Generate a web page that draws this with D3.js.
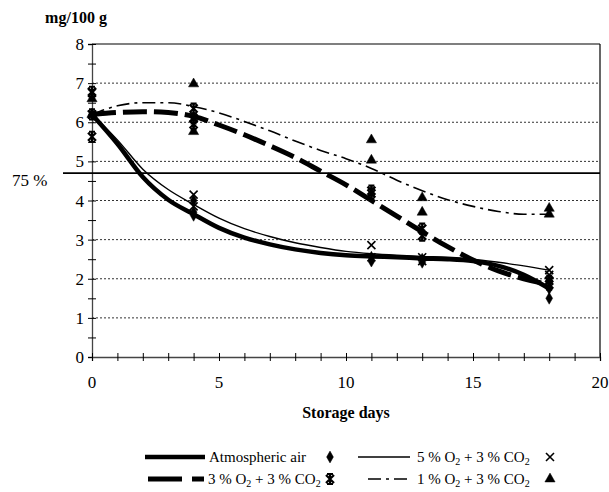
<!DOCTYPE html>
<html>
<head>
<meta charset="utf-8">
<script src="https://cdn.jsdelivr.net/npm/d3@7"></script>
<style>
  body { margin: 0; background: #fff; }
  svg { font-family: "Liberation Serif", "Times New Roman", serif; }
</style>
</head>
<body>
<script>
// days and replicate measurements (mg/100 g)
var trendDays = [0, 1, 2, 3, 4, 5, 6, 7, 8, 9, 10, 11, 12, 13, 14, 15, 16, 17, 18];
var airTrend  = [6.2, 5.45, 4.6, 4.02, 3.65, 3.3, 3.05, 2.88, 2.75, 2.66, 2.6, 2.57, 2.55, 2.52, 2.5, 2.45, 2.33, 2.1, 1.75];
var o5Trend   = [6.2, 5.55, 4.8, 4.28, 3.9, 3.55, 3.28, 3.08, 2.92, 2.8, 2.7, 2.64, 2.6, 2.57, 2.55, 2.5, 2.42, 2.33, 2.22];
var o3Trend   = [6.2, 6.25, 6.27, 6.25, 6.15, 5.93, 5.68, 5.4, 5.1, 4.75, 4.4, 4.0, 3.6, 3.2, 2.82, 2.48, 2.2, 2.0, 1.85];
var o1Trend   = [6.2, 6.42, 6.5, 6.5, 6.4, 6.24, 6.02, 5.78, 5.52, 5.28, 5.07, 4.82, 4.52, 4.25, 4.02, 3.85, 3.72, 3.65, 3.65];

var airPoints = [[0, 6.2], [4, 4.0], [4, 3.7], [4, 3.62], [11, 2.55], [11, 2.45], [13, 2.5], [13, 2.42], [18, 1.5], [18, 1.75], [18, 1.95]];
var o5Points  = [[0, 6.75], [0, 6.2], [4, 4.15], [4, 3.85], [11, 2.86], [11, 2.55], [13, 2.55], [13, 2.45], [18, 2.22], [18, 2.1]];
var o3Points  = [[0, 6.78], [0, 6.2], [0, 5.63], [4, 6.35], [4, 6.1], [4, 5.95], [11, 4.25], [11, 4.18], [13, 3.28], [13, 3.1], [18, 1.95], [18, 1.85]];
var o1Points  = [[0, 6.6], [0, 6.2], [4, 6.98], [4, 5.76], [11, 5.55], [11, 5.03], [13, 4.07], [13, 3.7], [18, 3.8], [18, 3.65]];

var yTicks = [0, 1, 2, 3, 4, 5, 6, 7, 8];
var xTicks = [0, 5, 10, 15, 20];
var limit75 = 4.7;

var svg = d3.select('body').append('svg')
  .attr('width', 609)
  .attr('height', 492)
  .attr('font-family', '"Liberation Serif", "Times New Roman", serif');

var x = d3.scaleLinear().domain([0, 20]).range([92, 600]);
var y = d3.scaleLinear().domain([0, 8]).range([357, 44]);

// dotted gridlines
svg.append('g')
  .selectAll('line')
  .data(yTicks.filter(function(d){ return d > 0 && d < 8; }))
  .enter().append('line')
    .attr('x1', x(0)).attr('x2', x(20))
    .attr('y1', function(d){ return y(d); })
    .attr('y2', function(d){ return y(d); })
    .attr('stroke', '#333')
    .attr('stroke-width', 1)
    .attr('stroke-dasharray', '2,2');

// frame top and right
svg.append('line').attr('x1', x(0)).attr('x2', x(20)).attr('y1', y(8)).attr('y2', y(8))
  .attr('stroke', '#000').attr('stroke-width', 1.2);
svg.append('line').attr('x1', x(20)).attr('x2', x(20)).attr('y1', y(8)).attr('y2', y(0))
  .attr('stroke', '#000').attr('stroke-width', 1.2);

// axes
var yAxis = d3.axisLeft(y).tickValues(d3.range(0, 8.01, 0.5)).tickSize(4).tickFormat('');
var gy = svg.append('g').attr('transform', 'translate(' + x(0) + ',0)').call(yAxis);
var xAxis = d3.axisBottom(x).tickValues(d3.range(0, 20.01, 1)).tickSize(4).tickFormat('');
var gx = svg.append('g').attr('transform', 'translate(0,' + y(0) + ')').call(xAxis);
[gy, gx].forEach(function(g){
  g.select('.domain').attr('stroke', '#444').attr('stroke-width', 1.3);
  g.selectAll('.tick line').attr('stroke', '#000');
});
gy.selectAll('.tick line').attr('x1', -4).attr('x2', 4);
gx.selectAll('.tick line').attr('y1', -4).attr('y2', 4);

svg.append('g').selectAll('text')
  .data(yTicks).enter().append('text')
    .attr('x', 84).attr('y', function(d){ return y(d) + 6; })
    .attr('text-anchor', 'end')
    .attr('font-size', 17)
    .text(function(d){ return d; });

svg.append('g').selectAll('text')
  .data(xTicks).enter().append('text')
    .attr('x', function(d){ return x(d); }).attr('y', 388)
    .attr('text-anchor', 'middle')
    .attr('font-size', 17)
    .text(function(d){ return d; });

// 75 % line
svg.append('line').attr('x1', 63).attr('x2', x(20)).attr('y1', y(limit75)).attr('y2', y(limit75))
  .attr('stroke', '#000').attr('stroke-width', 1.6);
svg.append('text').attr('x', 12).attr('y', y(limit75) + 13).attr('font-size', 17).text('75 %');

svg.append('text').attr('x', 76).attr('y', 23).attr('text-anchor', 'middle')
  .attr('font-size', 16).attr('font-weight', 'bold').text('mg/100 g');
svg.append('text').attr('x', 346).attr('y', 418).attr('text-anchor', 'middle')
  .attr('font-size', 16).attr('font-weight', 'bold').text('Storage days');

// markers
function markerPath(type){
  if (type === 'diamond') return d3.symbol().type(d3.symbolDiamond).size(40)();
  if (type === 'triangle') return d3.symbol().type(d3.symbolTriangle).size(45)();
  if (type === 'cross') return 'M-4,-4L4,4M-4,4L4,-4';
  return 'M-4,-4L4,4M-4,4L4,-4M0,-5L0,5M-3,-5L3,-5M-3,5L3,5';
}
function markerFill(type){
  return (type === 'cross' || type === 'star') ? 'none' : '#000';
}
function markerStroke(type){
  return type === 'star' ? 2.2 : (type === 'cross' ? 1.6 : 0.5);
}
function drawMarkers(points, type){
  svg.append('g').selectAll('path')
    .data(points).enter().append('path')
      .attr('transform', function(d){ return 'translate(' + x(d[0]) + ',' + y(d[1]) + ')'; })
      .attr('d', markerPath(type))
      .attr('fill', markerFill(type))
      .attr('stroke', '#000')
      .attr('stroke-width', markerStroke(type));
}

var series = [
  { name: 'air', trend: airTrend, points: airPoints, marker: 'diamond', width: 4.5, dash: null },
  { name: 'o5',  trend: o5Trend,  points: o5Points,  marker: 'cross',   width: 1.4, dash: null },
  { name: 'o3',  trend: o3Trend,  points: o3Points,  marker: 'star',    width: 5,   dash: '24,7' },
  { name: 'o1',  trend: o1Trend,  points: o1Points,  marker: 'triangle', width: 1.6, dash: '13,5,3,5' }
];

var line = d3.line()
  .x(function(d){ return x(d[0]); })
  .y(function(d){ return y(d[1]); })
  .curve(d3.curveMonotoneX);

series.forEach(function(s){
  drawMarkers(s.points, s.marker);
});
series.forEach(function(s){
  svg.append('path')
    .datum(trendDays.map(function(d, i){ return [d, s.trend[i]]; }))
    .attr('d', line)
    .attr('fill', 'none')
    .attr('stroke', '#000')
    .attr('stroke-width', s.width)
    .attr('stroke-dasharray', s.dash);
});

// legend
var legend = [
  { s: series[0], x1: 145, x2: 205, tx: 209, label: ['Atmospheric air'], mx: 330, my: 457 },
  { s: series[1], x1: 358, x2: 410, tx: 417, label: ['5 % O', '2', ' + 3 % CO', '2'], mx: 550, my: 457 },
  { s: series[2], x1: 148, x2: 204, tx: 208, label: ['3 % O', '2', ' + 3 % CO', '2'], mx: 330, my: 479 },
  { s: series[3], x1: 368, x2: 412, tx: 417, label: ['1 % O', '2', ' + 3 % CO', '2'], mx: 550, my: 479 }
];
legend.forEach(function(l){
  var g = svg.append('g');
  g.append('line').attr('x1', l.x1).attr('x2', l.x2).attr('y1', l.my).attr('y2', l.my)
    .attr('stroke', '#000').attr('stroke-width', l.s.width)
    .attr('stroke-dasharray', l.s.name === 'o3' ? '34,10,12' : l.s.dash);
  var t = g.append('text').attr('x', l.tx).attr('y', l.my + 5).attr('font-size', 15);
  l.label.forEach(function(part, i){
    var sp = t.append('tspan').text(part);
    if (part === '2') sp.attr('font-size', 10).attr('dy', 3);
    else if (i > 0) sp.attr('dy', -3);
  });
  g.append('path')
    .attr('transform', 'translate(' + l.mx + ',' + l.my + ')')
    .attr('d', markerPath(l.s.marker))
    .attr('fill', markerFill(l.s.marker))
    .attr('stroke', '#000')
    .attr('stroke-width', markerStroke(l.s.marker));
});
</script>
</body>
</html>
